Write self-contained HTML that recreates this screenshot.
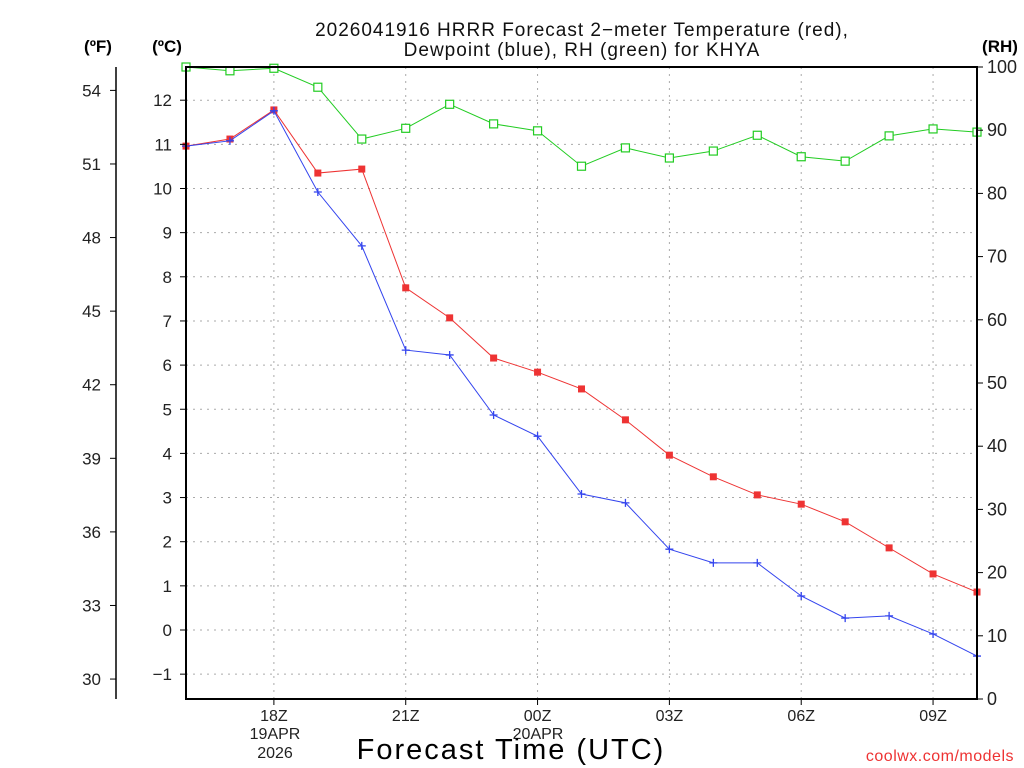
<!DOCTYPE html>
<html><head><meta charset="utf-8"><style>
body{margin:0;background:#fff;}
svg{display:block;font-family:"Liberation Sans",sans-serif;}
</style></head><body>
<svg id="c" width="1024" height="768" xmlns="http://www.w3.org/2000/svg"></svg>
<script>
const hours=[0,1,2,3,4,5,6,7,8,9,10,11,12,13,14,15,16,17,18];
const tempC=[10.96,11.12,11.78,10.35,10.44,7.75,7.07,6.16,5.84,5.46,4.76,3.96,3.47,3.06,2.85,2.45,1.86,1.27,0.86];
const dewC=[10.96,11.08,11.76,9.92,8.70,6.34,6.23,4.87,4.39,3.08,2.88,1.83,1.52,1.52,0.77,0.27,0.32,-0.09,-0.59];
const rh=[100,99.4,99.8,96.8,88.6,90.3,94.1,91.0,89.9,84.3,87.2,85.6,86.7,89.2,85.8,85.1,89.1,90.2,89.7];
const cTicks=[-1,0,1,2,3,4,5,6,7,8,9,10,11,12];
const fTicks=[30,33,36,39,42,45,48,51,54];
const rhTicks=[0,10,20,30,40,50,60,70,80,90,100];
const xTickHours=[2,5,8,11,14,17];
const xTickLabels=["18Z","21Z","00Z","03Z","06Z","09Z"];

const L=186,R=977,T=67,B=699;
const x=h=>L+h*(R-L)/18;
const yC=c=>630-c*44.15;
const yF=f=>yC((f-32)*5/9);
const yR=r=>B-r*(B-T)/100;
const svg=document.getElementById('c');
const NS='http://www.w3.org/2000/svg';
function el(tag,attrs,parent){const e=document.createElementNS(NS,tag);for(const k in attrs)e.setAttribute(k,attrs[k]);(parent||svg).appendChild(e);return e;}
function txt(s,attrs){const e=el('text',attrs);e.textContent=s;return e;}

cTicks.forEach(c=>{const g=el('line',{x1:L,x2:R,y1:yC(c),y2:yC(c),stroke:'#aaa','stroke-dasharray':'2,5'});

});
xTickHours.forEach(h=>{const g=el('line',{x1:x(h),x2:x(h),y1:T,y2:B,stroke:'#aaa','stroke-dasharray':'2,5'});

});

function series(vals,fy,color,name,marker){
 const pts=vals.map((v,i)=>x(hours[i])+','+fy(v)).join(' ');
 const pl=el('polyline',{points:pts,fill:'none',stroke:color,'stroke-width':1});
 
 
 vals.forEach((v,i)=>{const cx=x(hours[i]),cy=fy(v);let m;
  if(marker==='fill'){m=el('rect',{x:cx-3.5,y:cy-3.5,width:7,height:7,fill:color});}
  else if(marker==='open'){m=el('rect',{x:cx-4,y:cy-4,width:8,height:8,fill:'#fff',stroke:color,'stroke-width':1.2});}
  else{m=el('path',{d:`M${cx-4},${cy}H${cx+4}M${cx},${cy-4}V${cy+4}`,stroke:color,'stroke-width':1.3});}
  
  
 });
}
series(rh,yR,'#22cc22','rh','open');
series(tempC,yC,'#ee3333','temperature','fill');
series(dewC,yC,'#3344ee','dewpoint','plus');

const fr=el('rect',{x:L,y:T,width:R-L,height:B-T,fill:'none',stroke:'#000','stroke-width':2});



cTicks.forEach(c=>{el('line',{x1:L-6,x2:L,y1:yC(c),y2:yC(c),stroke:'#000'});
 const t=txt(String(c).replace('-','−'),{x:172,y:yC(c)+6,'text-anchor':'end','font-size':17,fill:'#222'});
 
 });
el('line',{x1:116,x2:116,y1:T,y2:B,stroke:'#000','stroke-width':1.5});
fTicks.forEach(f=>{el('line',{x1:110,x2:116,y1:yF(f),y2:yF(f),stroke:'#000'});
 const t=txt(String(f),{x:101,y:yF(f)+6,'text-anchor':'end','font-size':17,fill:'#222'});
 
 });
rhTicks.forEach(r=>{el('line',{x1:R,x2:R+6,y1:yR(r),y2:yR(r),stroke:'#000'});
 const t=txt(String(r),{x:987,y:yR(r)+6,'font-size':18,fill:'#222'});
 
 });
xTickHours.forEach((h,i)=>{el('line',{x1:x(h),x2:x(h),y1:B,y2:B+6,stroke:'#000'});
 const t=txt(xTickLabels[i],{x:x(h),y:721,'text-anchor':'middle','font-size':16,fill:'#222'});
 
 });
[["19APR",275,739],["2026",275,758],["20APR",538,739]].forEach(a=>{const t=txt(a[0],{x:a[1],y:a[2],'text-anchor':'middle','font-size':16,fill:'#222'});
 
 });

function label(s,a,name){const t=txt(s,a);}
label('(ºF)',{x:98,y:52,'text-anchor':'middle','font-size':17,'font-weight':'bold'},'fahrenheit-axis-title');
label('(ºC)',{x:167,y:52,'text-anchor':'middle','font-size':17,'font-weight':'bold'},'celsius-axis-title');
label('(RH)',{x:1000,y:52,'text-anchor':'middle','font-size':17,'font-weight':'bold'},'rh-axis-title');
label('2026041916 HRRR Forecast 2−meter Temperature (red),',{x:582,y:36,'text-anchor':'middle','font-size':19,fill:'#111','letter-spacing':'1'},'chart-title-line1');
label('Dewpoint (blue), RH (green) for KHYA',{x:582,y:56,'text-anchor':'middle','font-size':19,fill:'#111','letter-spacing':'1'},'chart-title-line2');
label('Forecast Time (UTC)',{x:511,y:759,'text-anchor':'middle','font-size':29,fill:'#000','letter-spacing':'2'},'x-axis-title');
label('coolwx.com/models',{x:1014,y:761,'text-anchor':'end','font-size':16,fill:'#ee3333','letter-spacing':'0.5'},'watermark');
</script>
</body></html>
